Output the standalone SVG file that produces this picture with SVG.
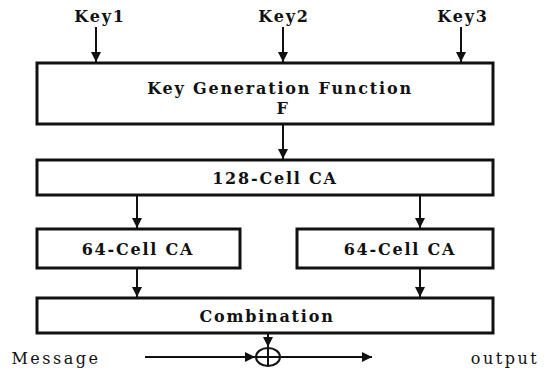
<svg xmlns="http://www.w3.org/2000/svg" width="553" height="386" viewBox="0 0 553 386">
<style>
.box{fill:#fff;stroke:#111;stroke-width:3}
.lbl{font-family:"DejaVu Serif","Liberation Serif",serif;font-weight:bold;font-size:16px;fill:#111;text-anchor:middle;letter-spacing:1.8px}
.thin{font-weight:normal;letter-spacing:2.5px}
.ln{stroke:#111;stroke-width:2;fill:none}
</style>
<defs>
<marker id="ah" viewBox="0 0 10 10" refX="10" refY="5" markerWidth="5" markerHeight="5.5" orient="auto" markerUnits="strokeWidth">
<path d="M0,0 L10,5 L0,10 z" fill="#111"/>
</marker>
</defs>
<rect width="553" height="386" fill="#fff"/>
<g id="connectors">
<line class="ln" x1="96" y1="27" x2="96" y2="62" marker-end="url(#ah)"/>
<line class="ln" x1="283" y1="27" x2="283" y2="62" marker-end="url(#ah)"/>
<line class="ln" x1="461" y1="27" x2="461" y2="62" marker-end="url(#ah)"/>
<line class="ln" x1="283" y1="124" x2="283" y2="159" marker-end="url(#ah)"/>
<line class="ln" x1="137" y1="195" x2="137" y2="228" marker-end="url(#ah)"/>
<line class="ln" x1="420" y1="195" x2="420" y2="228" marker-end="url(#ah)"/>
<line class="ln" x1="137" y1="268" x2="137" y2="297" marker-end="url(#ah)"/>
<line class="ln" x1="420" y1="268" x2="420" y2="297" marker-end="url(#ah)"/>
<line class="ln" x1="268" y1="333" x2="268" y2="347" marker-end="url(#ah)"/>
<line class="ln" x1="145" y1="357" x2="255" y2="357" marker-end="url(#ah)"/>
<line class="ln" x1="281" y1="357" x2="372" y2="357" marker-end="url(#ah)"/>
</g>
<g id="key1"><text class="lbl" x="100" y="22">Key1</text></g>
<g id="key2"><text class="lbl" x="284" y="22">Key2</text></g>
<g id="key3"><text class="lbl" x="463" y="22">Key3</text></g>
<g id="keygen">
<rect class="box" x="37" y="63" width="456" height="61"/>
<text class="lbl" x="280" y="94">Key Generation Function</text>
<text class="lbl" x="283" y="114" font-size="12">F</text>
</g>
<g id="ca128">
<rect class="box" x="37" y="160" width="456" height="35"/>
<text class="lbl" x="275" y="184">128-Cell CA</text>
</g>
<g id="ca64a">
<rect class="box" x="37" y="229" width="203" height="39"/>
<text class="lbl" x="138" y="255">64-Cell CA</text>
</g>
<g id="ca64b">
<rect class="box" x="297" y="229" width="196" height="39"/>
<text class="lbl" x="400" y="255">64-Cell CA</text>
</g>
<g id="combination">
<rect class="box" x="37" y="298" width="456" height="35"/>
<text class="lbl" x="267" y="322">Combination</text>
</g>
<g id="xor">
<ellipse cx="268" cy="357" rx="12" ry="9" fill="#fff" stroke="#111" stroke-width="2"/>
<line class="ln" x1="256" y1="357" x2="280" y2="357"/>
<line class="ln" x1="268" y1="348" x2="268" y2="366"/>
</g>
<g id="message"><text class="lbl thin" x="56" y="364">Message</text></g>
<g id="output"><text class="lbl thin" x="505" y="364">output</text></g>
</svg>
